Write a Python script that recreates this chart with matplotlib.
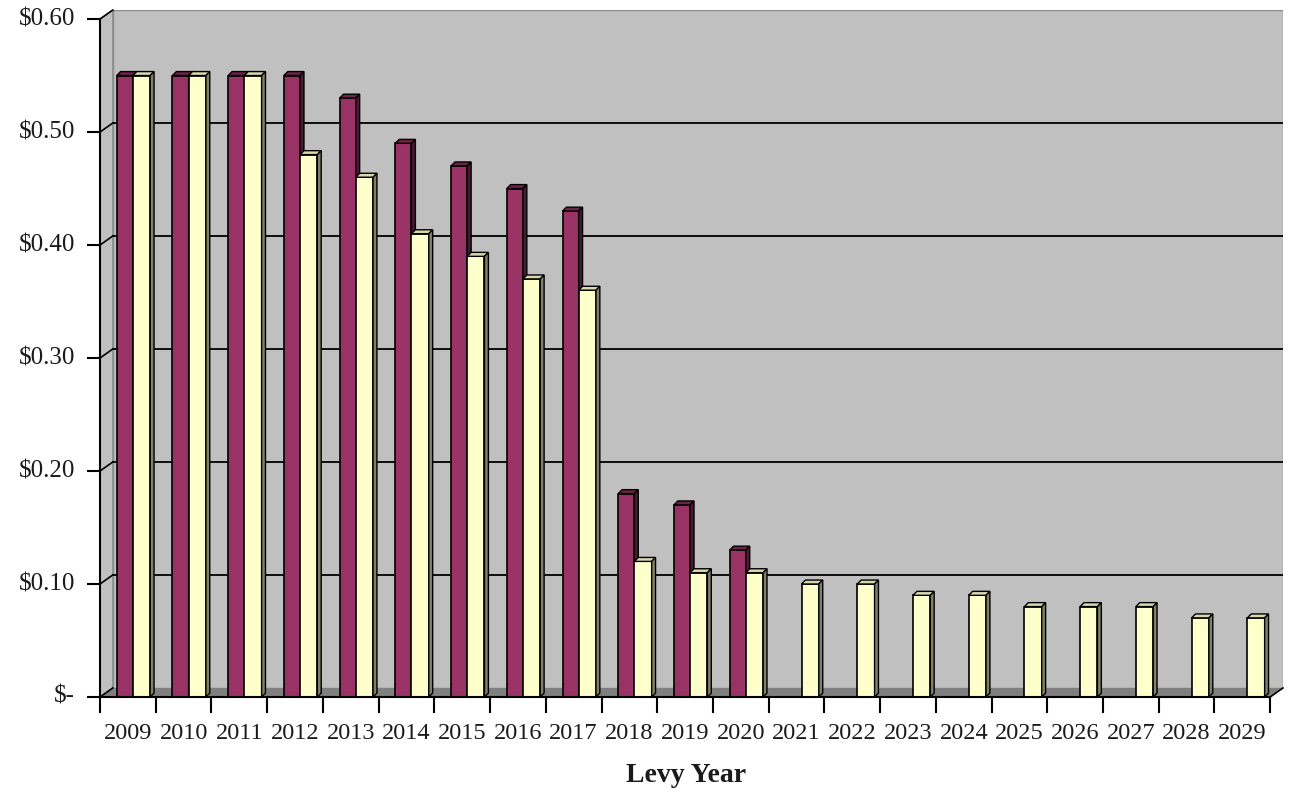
import numpy as np
import matplotlib.pyplot as plt
from matplotlib.patches import Polygon

years = [str(y) for y in range(2009, 2030)]
series_a = [0.55, 0.55, 0.55, 0.55, 0.53, 0.49, 0.47, 0.45, 0.43, 0.18, 0.17, 0.13,
            0, 0, 0, 0, 0, 0, 0, 0, 0]
series_b = [0.55, 0.55, 0.55, 0.48, 0.46, 0.41, 0.39, 0.37, 0.36, 0.12, 0.11, 0.11,
            0.10, 0.10, 0.09, 0.09, 0.08, 0.08, 0.08, 0.07, 0.07]
yticks = [0, 0.1, 0.2, 0.3, 0.4, 0.5, 0.6]
ytick_labels = ["$-", "$0.10", "$0.20", "$0.30", "$0.40", "$0.50", "$0.60"]

n = len(years)
DX, DY = 0.23, 0.008        # depth of the 3d box
bdx, bdy = 0.07, 0.0035     # depth of each bar
ymax = 0.6

plt.rcParams['font.family'] = ['Liberation Serif', 'DejaVu Serif']

fig = plt.figure(figsize=(13.01, 7.95), dpi=100)
ax = fig.add_axes([100 / 1301, 98 / 795, 1183 / 1301, 687 / 795])
ax.set_xlim(0, n + DX)
ax.set_ylim(0, ymax + DY)
ax.axis("off")

# walls and floor
ax.add_patch(Polygon([(DX, DY), (n + DX, DY), (n + DX, ymax + DY), (DX, ymax + DY)],
                     facecolor="#c0c0c0", edgecolor="#8c8c8c", lw=1, zorder=0))
ax.add_patch(Polygon([(0, 0), (DX, DY), (DX, ymax + DY), (0, ymax)],
                     facecolor="#c0c0c0", edgecolor="#8c8c8c", lw=1, zorder=0))
ax.add_patch(Polygon([(0, 0), (n, 0), (n + DX, DY), (DX, DY)],
                     facecolor="#808080", edgecolor="none", zorder=1))

# gridlines on back wall + diagonal tick links
for v in yticks[1:-1]:
    ax.plot([DX, n + DX], [v + DY, v + DY], color="black", lw=1.3, zorder=0.5)
for v in yticks:
    ax.plot([0, DX], [v, v + DY], color="black", lw=1.2, zorder=5, clip_on=False)


def bar3d(x0, w, h, front, top, side):
    ax.bar(x0, h, width=w, align="edge", color=front, edgecolor="black", lw=1.2, zorder=3)
    ax.add_patch(Polygon([(x0, h), (x0 + w, h), (x0 + w + bdx, h + bdy), (x0 + bdx, h + bdy)],
                         facecolor=top, edgecolor="black", lw=1.0, zorder=3))
    ax.add_patch(Polygon([(x0 + w, 0), (x0 + w + bdx, bdy), (x0 + w + bdx, h + bdy), (x0 + w, h)],
                         facecolor=side, edgecolor="black", lw=1.0, zorder=3))


for i in range(n):
    if series_a[i] > 0:
        bar3d(i + 0.30, 0.29, series_a[i], "#993366", "#6b2347", "#4c1933")
    if series_b[i] > 0:
        bar3d(i + 0.59, 0.31, series_b[i], "#ffffcc", "#d8d8ad", "#80806a")

# front axes
ax.plot([0, 0], [0, ymax], color="black", lw=1.5, zorder=6, clip_on=False)
ax.plot([0, n], [0, 0], color="black", lw=1.5, zorder=6, clip_on=False)
ax.plot([n, n + DX], [0, DY], color="black", lw=1.2, zorder=6, clip_on=False)

tick_dx = 12 / 1183 * (n + DX)
tick_dy = 15 / 687 * (ymax + DY)
for v, lab in zip(yticks, ytick_labels):
    ax.plot([-tick_dx, 0], [v, v], color="black", lw=1.5, clip_on=False)
    ax.text(-2.1 * tick_dx, v, lab, ha="right", va="center", fontsize=18,
            color="#1a1a1a", clip_on=False)
for i in range(n + 1):
    ax.plot([i, i], [0, -tick_dy], color="black", lw=1.5, clip_on=False)
for i, y in enumerate(years):
    ax.text(i + 0.5, -2.45 * tick_dy, y, ha="center", va="center", fontsize=17.5,
            color="#1a1a1a", clip_on=False)

fig.text(686 / 1301, 1 - 776 / 795, "Levy Year", ha="center", va="center",
         fontsize=20, fontweight="bold", color="#1a1a1a")

fig.savefig("out.png", dpi=100)
